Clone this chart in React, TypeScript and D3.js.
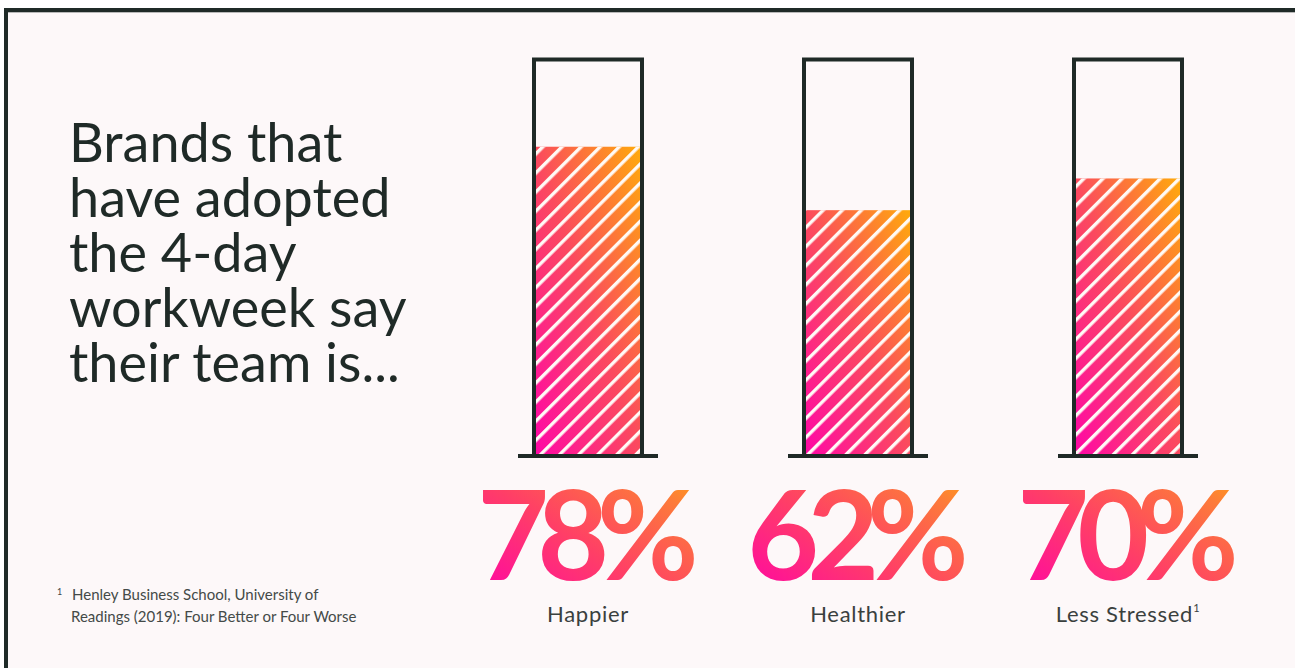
import React from "react";
import * as d3 from "d3";

const categories = ["Happier", "Healthier", "Less Stressed"];
const values = [78, 62, 70];
const labelSuperscripts = ["", "", "1"];
const titleLines = [
  "Brands that",
  "have adopted",
  "the 4-day",
  "workweek say",
  "their team is...",
];
const footnoteLines = [
  "Henley Business School, University of",
  "Readings (2019): Four Better or Four Worse",
];

const W = 1295;
const H = 668;
const DARK = "#1f2a27";

export default function App() {
  const x = d3
    .scaleBand<string>()
    .domain(categories)
    .range([453, 1263])
    .paddingInner(0.6)
    .paddingOuter(0.3);
  const y = d3.scaleLinear().domain([0, 100]).range([456, 59.5]);
  const bw = x.bandwidth();
  const font = "Lato, 'Open Sans', sans-serif";

  return (
    <svg
      width={W}
      height={H}
      style={{ position: "absolute", left: 0, top: 0 }}
      fontFamily={font}
    >
      <defs>
        <linearGradient id="grad" x1="0" y1="1" x2="1" y2="0">
          <stop offset="0" stopColor="#ff06a8" />
          <stop offset="0.5" stopColor="#fb4a5e" />
          <stop offset="1" stopColor="#ffac0a" />
        </linearGradient>
        <linearGradient id="gradText" x1="0" y1="1" x2="1" y2="0">
          <stop offset="0" stopColor="#ff00aa" />
          <stop offset="0.45" stopColor="#ff3f66" />
          <stop offset="0.8" stopColor="#fd7a3a" />
          <stop offset="1" stopColor="#ffad08" />
        </linearGradient>
        <pattern
          id="stripes"
          width="13.5"
          height="13.5"
          patternUnits="userSpaceOnUse"
          patternTransform="rotate(45)"
        >
          <rect x="0" y="0" width="3.4" height="13.5" fill="#fffaf6" />
        </pattern>
      </defs>
      <rect x={0} y={0} width={W} height={H} fill="#ffffff" />
      <rect x={4} y={8} width={W - 4} height={H - 8} fill="#fdf8f9" />
      <rect x={4} y={8} width={W - 4} height={4.3} fill={DARK} />
      <rect x={4} y={8} width={4} height={H - 8} fill={DARK} />

      <g fill={DARK} fontSize={54}>
        {titleLines.map((t, i) => (
          <text key={i} x={69} y={162 + i * 55}>
            {t}
          </text>
        ))}
      </g>

      <g fill="#444a48" fontSize={15}>
        <text x={57} y={595} fontSize={9}>
          1
        </text>
        {footnoteLines.map((t, i) => (
          <text key={i} x={i === 0 ? 72 : 71} y={600 + i * 22}>
            {t}
          </text>
        ))}
      </g>

      {categories.map((c, i) => {
        const x0 = x(c)!;
        const cx = x0 + bw / 2;
        const v = values[i];
        return (
          <g key={c}>
            <rect
              x={x0}
              y={y(v)}
              width={bw}
              height={y(0) - y(v)}
              fill="url(#grad)"
            />
            <rect
              x={x0}
              y={y(v)}
              width={bw}
              height={y(0) - y(v)}
              fill="url(#stripes)"
            />
            <rect
              x={x0}
              y={y(100)}
              width={bw}
              height={y(0) - y(100)}
              fill="none"
              stroke={DARK}
              strokeWidth={4}
            />
            <line
              x1={x0 - 16}
              x2={x0 + bw + 16}
              y1={y(0)}
              y2={y(0)}
              stroke={DARK}
              strokeWidth={4}
            />
            <text
              x={cx}
              dx={-6}
              y={580}
              textAnchor="middle"
              fontSize={124}
              fontWeight={700}
              letterSpacing={-12}
              fill="url(#gradText)"
            >
              {`${v}%`}
            </text>
            <text
              x={cx}
              y={622}
              textAnchor="middle"
              fontSize={22}
              letterSpacing={0.7}
              fill="#3a403e"
            >
              {c}
              {labelSuperscripts[i] && (
                <tspan fontSize={11} dy={-10}>
                  {labelSuperscripts[i]}
                </tspan>
              )}
            </text>
          </g>
        );
      })}
    </svg>
  );
}
